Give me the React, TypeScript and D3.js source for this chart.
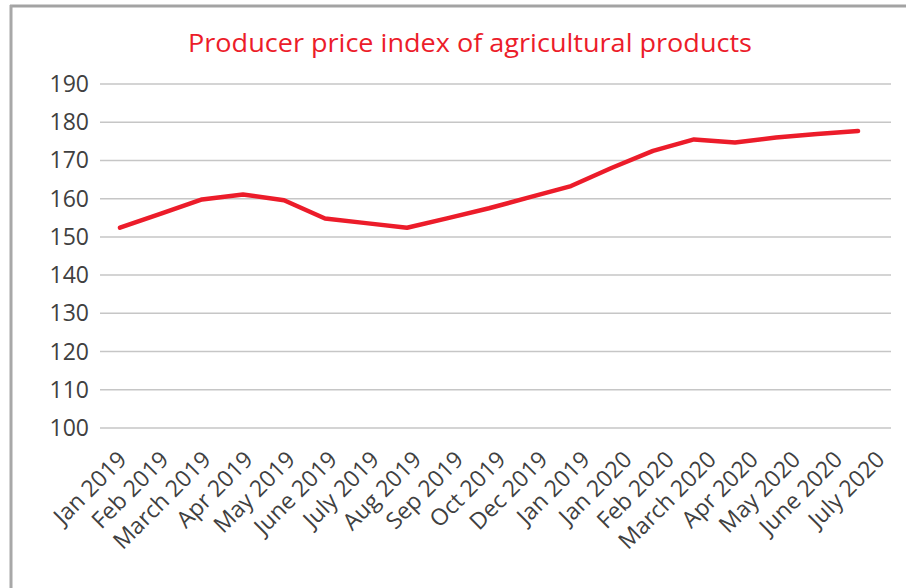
import React from "react";
import * as d3 from "d3";

const months = [
  "Jan 2019", "Feb 2019", "March 2019", "Apr 2019", "May 2019", "June 2019",
  "July 2019", "Aug 2019", "Sep 2019", "Oct 2019", "Dec 2019", "Jan 2019",
  "Jan 2020", "Feb 2020", "March 2020", "Apr 2020", "May 2020", "June 2020", "July 2020",
];
const ppi = [
  152.4, 156.1, 159.8, 161.1, 159.6, 154.8, 153.6, 152.4, 154.9, 157.5,
  160.4, 163.3, 168.1, 172.5, 175.5, 174.7, 176.0, 176.9, 177.7,
];
const yTicks = [100, 110, 120, 130, 140, 150, 160, 170, 180, 190];
const title = "Producer price index of agricultural products";

const W = 906;
const H = 588;
const RED = "#ec1c2a";
const TEXT = "#404040";
const FONT = "'Open Sans', 'DejaVu Sans', sans-serif";

export default function App() {
  const y = d3.scaleLinear().domain([100, 190]).range([428, 84]);
  const x = d3.scalePoint<string>().domain(months.map((_, i) => String(i))).range([120, 858]);
  const xLab = d3.scalePoint<string>().domain(months.map((_, i) => String(i))).range([128, 886]);

  const line = d3
    .line<number>()
    .x((_, i) => x(String(i)) as number)
    .y((d) => y(d));

  return (
    <div style={{ position: "absolute", left: 0, top: 0 }}>
      <svg width={W} height={H} style={{ display: "block", background: "#fff" }}>
        {/* frame */}
        <line x1={10} x2={W} y1={6} y2={6} stroke="#a3a3a3" strokeWidth={3} />
        <line x1={11} x2={11} y1={5} y2={H} stroke="#a8a8a8" strokeWidth={3} />

        <text
          x={470}
          y={52}
          textAnchor="middle"
          fill={RED}
          fontFamily={FONT}
          fontSize={26}
          textLength={564}
          lengthAdjust="spacingAndGlyphs"
        >
          {title}
        </text>

        {/* gridlines and y labels */}
        {yTicks.map((t) => (
          <g key={t}>
            <line x1={100} x2={891} y1={y(t)} y2={y(t)} stroke="#c6c6c6" strokeWidth={1.5} />
            <text
              x={89}
              y={y(t)}
              dy="0.35em"
              textAnchor="end"
              fill={TEXT}
              fontFamily={FONT}
              fontSize={23}
            >
              {t}
            </text>
          </g>
        ))}

        {/* category labels */}
        {months.map((m, i) => {
          const lx = xLab(String(i)) as number;
          const ly = 461;
          return (
            <text
              key={i}
              x={lx}
              y={ly}
              transform={`rotate(-45 ${lx} ${ly})`}
              textAnchor="end"
              fill={TEXT}
              fontFamily={FONT}
              fontSize={23}
            >
              {m}
            </text>
          );
        })}

        <path
          d={line(ppi) || ""}
          fill="none"
          stroke={RED}
          strokeWidth={4.5}
          strokeLinejoin="round"
          strokeLinecap="round"
        />
      </svg>
    </div>
  );
}
